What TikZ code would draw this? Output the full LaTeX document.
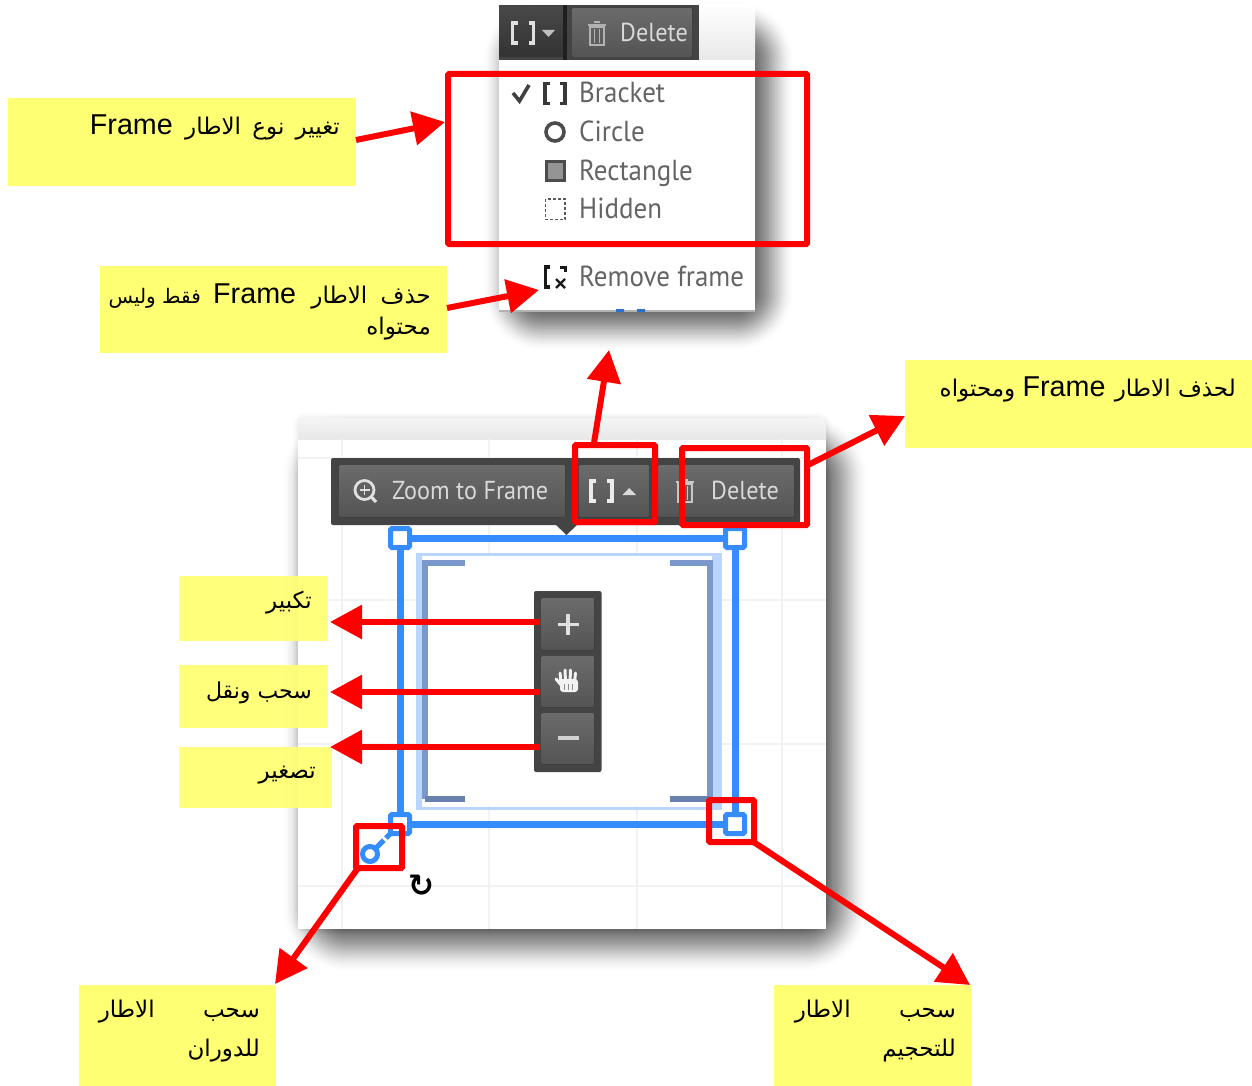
\documentclass[tikz,border=0pt]{standalone}
\usepackage{fontspec}
\usetikzlibrary{arrows.meta,shadings}
\TeXXeTstate=1
\setmainfont{Liberation Sans}
\newfontfamily\arfont[Script=Arabic]{DejaVu Sans}
\newfontfamily\lafont{Liberation Sans}
\newfontfamily\uifont[FakeStretch=0.93]{PT Sans}
\newfontfamily\symfont{DejaVu Sans}
\newcommand{\fr}{\hspace{5pt}\beginL{\lafont\fontsize{28.7}{32}\selectfont Frame}\endL\hspace{5pt}}
\definecolor{noteyellow}{RGB}{255,255,115}
\definecolor{notered}{RGB}{255,0,0}
\definecolor{frameblue}{RGB}{52,140,255}
\definecolor{paleblue}{RGB}{186,214,255}
\definecolor{slateblue}{RGB}{122,152,204}
\definecolor{barbg}{RGB}{68,68,68}
\definecolor{menugrey}{RGB}{100,100,100}
\tikzset{
  notebox/.style={fill=noteyellow,draw=none,inner sep=0pt,outer sep=0pt},
  softbox/.style={notebox,fill=noteyellow,fill opacity=.93},
  notetext/.style={anchor=base east,inner sep=0pt,text=black,font=\arfont\fontsize{23}{26}\selectfont},
  redbox/.style={draw=notered,line width=6pt,inner sep=0pt,outer sep=0pt,rounded corners=1pt},
  arrowline/.style={draw=notered,line width=6pt,-{Triangle[length=32pt,width=33pt,fill=notered]}},
  uitext/.style={anchor=base west,inner sep=0pt,text=menugrey,font=\uifont\fontsize{29}{32}\selectfont},
  bartext/.style={anchor=base west,inner sep=0pt,text=white!85!black,font=\uifont\fontsize{26}{30}\selectfont},
  btn/.style={top color=white!42!black,bottom color=white!33!black,draw=none,rounded corners=1pt},
  gridline/.style={draw=black!5,line width=1.2pt},
}
% soft shadow: x1 y1 x2 y2 blur peak-opacity-per-layer
\newcommand{\softshadow}[6]{%
  \foreach \i in {0,...,39}{%
    \pgfmathsetmacro{\dd}{#5*(1-\i/19.5)}%
    \pgfmathsetmacro{\rr}{max(1,\dd+#5)}%
    \pgfmathsetmacro{\op}{#6*sin(180*(\i+.5)/40)}%
    \fill[black,opacity=\op,rounded corners=\rr pt] (#1-\dd,#2-\dd) rectangle (#3+\dd,#4+\dd);
  }%
}
% bracket icon: cx cy halfwidth halfheight linewidth colour
\newcommand{\bicon}[6]{%
  \draw[#6,line width=#5pt,line join=miter] (#1-#3+5,#2-#4) -- (#1-#3,#2-#4) -- (#1-#3,#2+#4) -- (#1-#3+5,#2+#4);
  \draw[#6,line width=#5pt,line join=miter] (#1+#3-5,#2-#4) -- (#1+#3,#2-#4) -- (#1+#3,#2+#4) -- (#1+#3-5,#2+#4);
}
% trash icon: cx cy colour
\newcommand{\trash}[3]{%
  \draw[#3,line width=1.6pt] (#1-7,#2-7) rectangle (#1+7,#2+11);
  \draw[#3,line width=1.3pt] (#1-2.5,#2-5) -- (#1-2.5,#2+9) (#1+2.5,#2-5) -- (#1+2.5,#2+9);
  \draw[#3,line width=2pt] (#1-9,#2-9) -- (#1+9,#2-9) (#1-3,#2-11.5) -- (#1+3,#2-11.5);
}
\begin{document}
\begin{tikzpicture}[x=1pt,y=-1pt]
\useasboundingbox (0,0) rectangle (1252,1086);
\fill[white] (0,0) rectangle (1252,1086);

% ---------- shadows
\softshadow{512}{30}{765}{322}{30}{0.04}
\softshadow{314}{445}{836}{940}{33}{0.04}
\softshadow{298}{418}{826}{929}{9}{0.004}

% ---------- popup menu
\fill[white] (499,5) rectangle (755,312);
\shade[top color=white,bottom color=black!9] (699,5) rectangle (755,60);
\fill[black!30] (499,310) rectangle (755,312);
\fill[frameblue!80!black] (616,309) rectangle (624,312) (637,309) rectangle (645,312);
\fill[barbg] (499,5) rectangle (699,60);
\shade[top color=black!72,bottom color=black!80] (499,8) rectangle (563,57);
\fill[black!88] (563,5) rectangle (567,60);
\fill[btn] (572,8) rectangle (692,57);
\bicon{523}{33}{10.5}{10}{3.6}{white!88!black}
\fill[white!75!black] (542,30) -- (555,30) -- (548.5,37) -- cycle;
\trash{597}{34}{white!70!black}
\node[bartext] (popdelete) at (620,41.5) {Delete};

\draw[black!75,line width=3.6pt] (513,93) -- (519.5,101) -- (529,85);
\bicon{555}{93.5}{10}{10}{3.8}{black!78}
\node[uitext] (mbracket) at (579,102.5) {Bracket};
\draw[black!70,line width=3.6pt] (555,132) circle (9);
\node[uitext] (mcircle) at (579,142) {Circle};
\draw[black!70,fill=black!42,line width=3pt] (546,161.5) rectangle (564,180.5);
\node[uitext] (mrect) at (579,180.5) {Rectangle};
\draw[black!65,line width=1.4pt,dash pattern=on 3pt off 2pt] (545.5,199) rectangle (565,219.5);
\node[uitext] (mhidden) at (579,218.5) {Hidden};
\draw[black!90,line width=3.6pt] (550,267) -- (545.5,267) -- (545.5,287) -- (550,287);
\draw[black!90,line width=3pt] (560,267) -- (565,267) -- (565,272);
\draw[black!90,line width=2.4pt] (556,279) -- (565,288) (565,279) -- (556,288);
\node[uitext] (mremove) at (579,286.5) {Remove frame};

% ---------- main panel
\fill[white] (298,418) rectangle (826,929);
\shade[top color=black!4,bottom color=black!9] (298,418) rectangle (826,439);
\draw[gridline] (342,439) -- (342,929) (489,439) -- (489,929) (637,439) -- (637,929) (782,439) -- (782,929);
\draw[gridline] (298,458) -- (826,458) (298,600) -- (826,600) (298,744) -- (826,744) (298,886) -- (826,886);

% light frame and brackets
\fill[white] (418,556) rectangle (718,806);
\draw[paleblue,line width=3pt] (417,554.5) rectangle (720,808);
\fill[paleblue] (416,554) rectangle (422,808) (712,554) rectangle (720,808);
\draw[slateblue,line width=6pt] (465,563) -- (425,563) -- (425,799);
\draw[slateblue,line width=6pt] (670,563) -- (710,563) -- (710,799);
\draw[slateblue!85!black,line width=6pt] (425,799) -- (465,799);
\draw[slateblue!85!black,line width=6pt] (670,799) -- (710,799);

% blue frame
\draw[frameblue,line width=7pt] (400,538) rectangle (735,824);
\foreach \hx/\hy/\hn in {400/538/ha,735/538/hb,400/824/hc,735/824/hd}{
  \node[draw=frameblue,fill=white,line width=5pt,minimum size=19pt,inner sep=0pt,outer sep=0pt,rounded corners=1.5pt] (\hn) at (\hx,\hy) {};
}
\node[draw=frameblue,fill=white,line width=5pt,circle,minimum size=15pt,inner sep=0pt,outer sep=0pt] (rothandle) at (370,854) {};
\draw[frameblue,line width=5pt,dash pattern=on 12pt off 3pt] (rothandle) -- (hc);

% horizontal toolbar
\fill[barbg,rounded corners=2pt] (331,458) rectangle (800,525);
\fill[barbg] (555,524) -- (578,524) -- (566.5,535) -- cycle;
\fill[btn] (339,465) rectangle (565,517);
\fill[btn] (579,465) rectangle (649,517);
\fill[btn] (658,465) rectangle (794,517);
\draw[white!88!black,line width=2.8pt] (364.5,490) circle (9.5);
\draw[white!88!black,line width=3.2pt] (371.5,497) -- (376,502);
\draw[white!88!black,line width=1.8pt] (364.5,485) -- (364.5,495) (359.5,490) -- (369.5,490);
\node[bartext] (tzoom) at (392,499.5) {Zoom to Frame};
\bicon{601.5}{491}{10.5}{10}{3.6}{white!92!black}
\fill[white!85!black] (622.5,495) -- (636,495) -- (629.2,488) -- cycle;
\trash{685}{491}{white!78!black}
\node[bartext] (tdelete) at (711,499.5) {Delete};

% vertical toolbar
\fill[barbg,rounded corners=2pt] (534,591) rectangle (601.5,772);
\fill[btn] (541.5,598) rectangle (594,650);
\fill[btn] (541.5,656) rectangle (594,707);
\fill[btn] (541.5,713) rectangle (594,764);
\draw[white!88!black,line width=3.4pt] (568,614) -- (568,635) (557.5,624.5) -- (578.5,624.5);
\draw[white!82!black,line width=3.4pt] (557.5,738) -- (578.5,738);
% hand
\fill[white!95!black,rounded corners=3pt] (560,679) rectangle (578,692);
\draw[white!95!black,line width=3pt,line cap=round] (561,682) -- (560,673) (565.5,682) -- (565,670) (570,682) -- (570.5,670) (574.5,682) -- (575.5,673) (562,686) -- (556,679);
\draw[black!45,line width=.8pt] (564,684) -- (564,690) (568,684) -- (568,690) (572,684) -- (572,690);
% rotate cursor
\node[inner sep=0pt,text=black,font=\symfont\bfseries\fontsize{31}{33}\selectfont] (rotcursor) at (421,886) {↻};

% ---------- notes
\node[notebox,minimum width=348pt,minimum height=88pt] (n1) at (182,142) {};
\node[notebox,minimum width=347pt,minimum height=87pt] (n2) at (273.5,309.5) {};
\node[notebox,minimum width=347pt,minimum height=88pt] (n3) at (1078.5,404) {};
\node[softbox,text opacity=1,minimum width=149pt,minimum height=65pt] (n4) at (253.5,608.5) {};
\node[softbox,text opacity=1,minimum width=149pt,minimum height=63pt] (n5) at (253.5,696.5) {};
\node[softbox,text opacity=1,minimum width=153pt,minimum height=61pt] (n6) at (255.5,777.5) {};
\node[notebox,minimum width=197pt,minimum height=101pt] (n7) at (177.5,1035.5) {};
\node[notebox,minimum width=197pt,minimum height=101pt] (n8) at (872.5,1035.5) {};

\node[notetext] (t1) at (340,135) {\beginR تغيير \hspace{4pt}نوع \hspace{4pt}الاطار \fr\endR};
\node[notetext] (t2a) at (431,303) {\beginR حذف \hspace{6pt}الاطار \hspace{3pt}\fr{} {\fontsize{20}{24}\selectfont فقط وليس}\endR};
\node[notetext] (t2b) at (431,334) {\beginR محتواه\endR};
\node[notetext] (t3) at (1236,396.5) {\beginR لحذف الاطار \hspace{-3pt}\fr{}\hspace{-5pt} ومحتواه\endR};
\node[notetext] (t4) at (312,608) {\beginR تكبير\endR};
\node[notetext,font=\arfont\fontsize{22}{26}\selectfont] (t5) at (312,698) {\beginR سحب ونقل\endR};
\node[notetext] (t6) at (316,778) {\beginR تصغير\endR};
\node[notetext] (t7a) at (260,1017) {\hbox to 161pt{\beginR سحب\hfill الاطار\endR}};
\node[notetext] (t7b) at (260,1056) {\beginR للدوران\endR};
\node[notetext] (t8a) at (956,1017) {\hbox to 161pt{\beginR سحب\hfill الاطار\endR}};
\node[notetext] (t8b) at (956,1056) {\beginR للتحجيم\endR};

% ---------- red highlight boxes
\node[redbox,minimum width=359pt,minimum height=170pt] (rmenu) at (627.5,159) {};
\node[redbox,minimum width=80pt,minimum height=77pt] (rbracket) at (615,483.5) {};
\node[redbox,minimum width=125pt,minimum height=77pt] (rdelete) at (744.5,486.5) {};
\node[redbox,minimum width=46pt,minimum height=42pt] (rrot) at (379,847) {};
\node[redbox,minimum width=45pt,minimum height=42pt] (rscale) at (731.5,821) {};

% ---------- connector ends
\coordinate (a1s) at (356,140);  \coordinate (a1e) at (445,122);
\coordinate (a2s) at (447,308);  \coordinate (a2e) at (539,290);
\coordinate (a3s) at (594,443);  \coordinate (a3e) at (609,350);
\coordinate (a4s) at (808,465);  \coordinate (a4e) at (905,416);
\coordinate (a5s) at (540,622);  \coordinate (a5e) at (330,622);
\coordinate (a6s) at (540,692);  \coordinate (a6e) at (330,692);
\coordinate (a7s) at (540,747);  \coordinate (a7e) at (330,747);
\coordinate (a8s) at (358,868);  \coordinate (a8e) at (275,984);
\coordinate (a9s) at (752,841);  \coordinate (a9e) at (970,985);

\draw[arrowline] (a1s) -- (a1e);
\draw[arrowline] (a2s) -- (a2e);
\draw[arrowline] (a3s) -- (a3e);
\draw[arrowline] (a4s) -- (a4e);
\draw[arrowline] (a5s) -- (a5e);
\draw[arrowline] (a6s) -- (a6e);
\draw[arrowline] (a7s) -- (a7e);
\draw[arrowline] (a8s) -- (a8e);
\draw[arrowline] (a9s) -- (a9e);
\end{tikzpicture}
\end{document}
